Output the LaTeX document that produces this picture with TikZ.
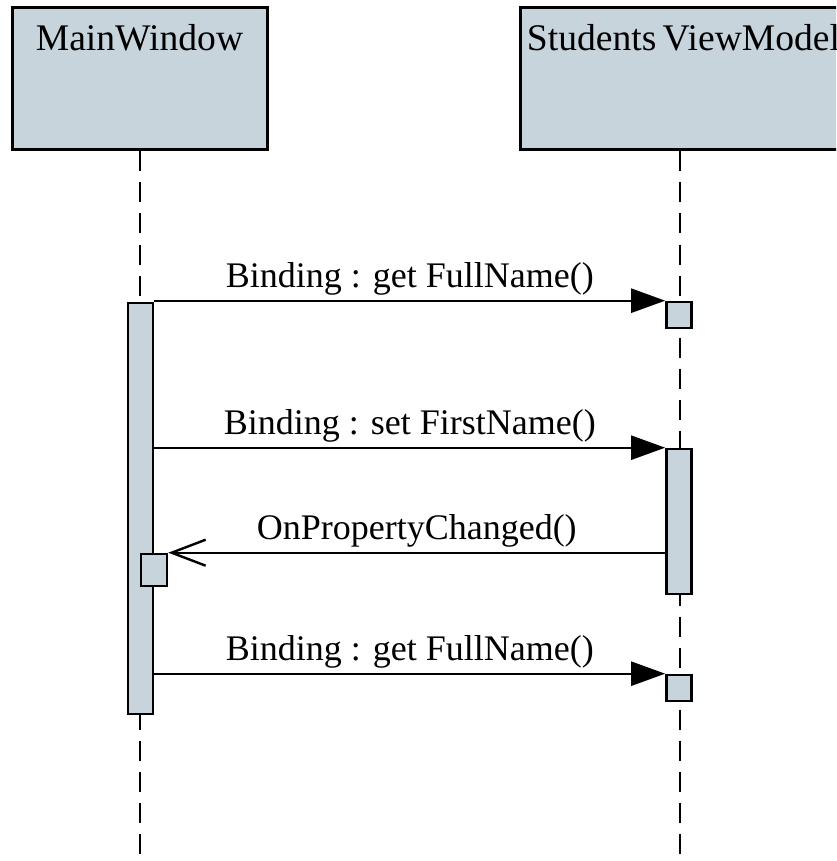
\documentclass[tikz,border=0pt]{standalone}
\usepackage{fontspec}
\setmainfont{Liberation Serif}
\usetikzlibrary{arrows.meta,positioning}
\definecolor{lifefill}{RGB}{200,212,220}

\begin{document}
\begin{tikzpicture}[x=0.5pt,y=-0.5pt,
	obj_box/.style={rectangle,draw,fill=lifefill,line width=1.5pt,minimum height=71pt,inner sep=0pt},
	obj_name/.style={anchor=north,inner sep=0pt,font=\fontsize{18.8}{22}\selectfont},
	act_bar/.style={rectangle,draw,fill=lifefill,line width=1.3pt,minimum width=12.5pt,inner sep=0pt},
	life_line/.style={line width=1.4pt,dash pattern=on 10pt off 5.5pt},
	msg/.style={line width=1.2pt,-{Triangle[length=17pt,width=12pt]}},
	reply_msg/.style={line width=1.2pt,-{Straight Barb[length=17pt,width=13pt,line width=1.2pt]}},
	msg_text/.style={above,inner sep=2pt,font=\fontsize{18}{22}\selectfont}]

	\clip (0,0) rectangle (836,861);

	% objects
	\node[obj_box,minimum width=127.5pt] (mw) at (139.5,79) {};
	\node[obj_box,minimum width=160pt] (svm) at (680,79) {};
	\node[obj_name] (mwname) at ([yshift=-9pt]mw.north) {MainWindow};
	\node[obj_name,anchor=north west] (svmname) at ([xshift=4pt,yshift=-9pt]svm.north west) {Students\,ViewModel};

	% life lines
	\coordinate (mwend) at (140,861);
	\coordinate (svmend) at (680,861);
	\draw[life_line] (mw.south -| mwend) -- (mwend);
	\draw[life_line] (svm.south) -- (svmend);

	% activations
	\node[act_bar,minimum height=205.5pt] (mwbar) at (140.5,508.5) {};
	\node[act_bar,minimum width=13pt,minimum height=16pt] (mwself) at (154,570) {};
	\node[act_bar,minimum height=13pt] (svbar1) at (679,315) {};
	\node[act_bar,minimum height=72.5pt] (svbar2) at (679,521.5) {};
	\node[act_bar,minimum height=13pt] (svbar3) at (679,688) {};

	% messages
	\draw[msg] (mwbar.east |- svbar1.north) -- node[msg_text] {Binding : get FullName()} (svbar1.north west);
	\draw[msg] (mwbar.east |- svbar2.north) -- node[msg_text] {Binding : set FirstName()} (svbar2.north west);
	\draw[reply_msg] (svbar2.west |- mwself.north) -- node[msg_text] {OnPropertyChanged()} (mwself.north east);
	\draw[msg] (mwbar.east |- svbar3.north) -- node[msg_text] {Binding : get FullName()} (svbar3.north west);
\end{tikzpicture}
\end{document}
